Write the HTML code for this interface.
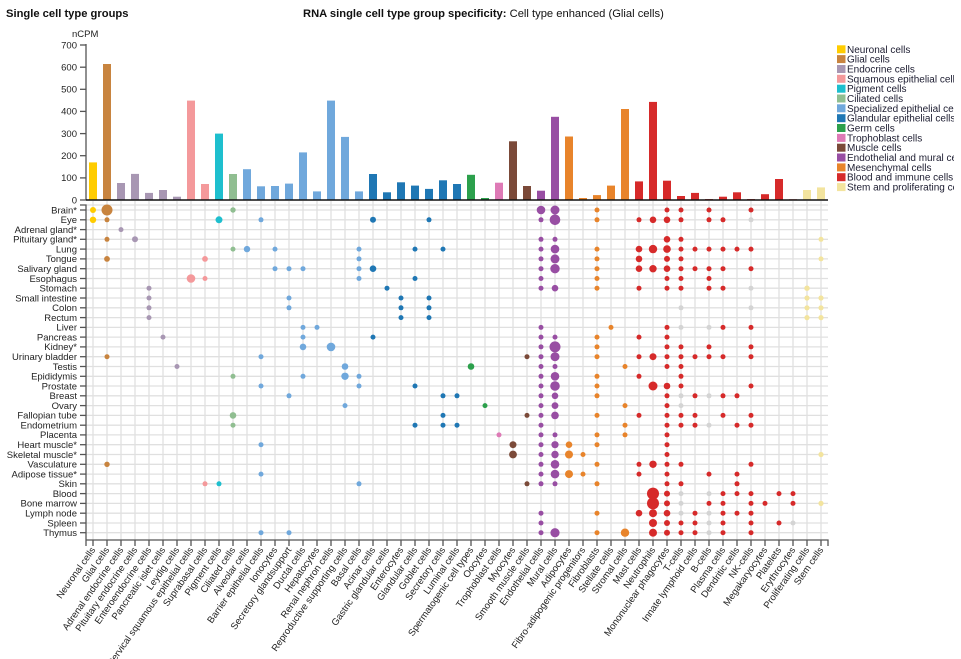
<!DOCTYPE html>
<html><head><meta charset="utf-8">
<style>
html,body{margin:0;padding:0;background:#fff;}
svg{display:block;font-family:"Liberation Sans",Arial,sans-serif;}
.t{font-size:11.2px;font-weight:bold;fill:#111;}
.tn{font-weight:normal;}
.yl{font-size:9.5px;fill:#222;text-anchor:end;}
.rl{font-size:9.5px;fill:#222;text-anchor:end;}
.xl{font-size:9.5px;fill:#222;text-anchor:end;}
.lg{font-size:10px;fill:#1c1c30;}
.grid line{stroke:#e0e0e0;stroke-width:1.3;}
.n{fill:#FFCC00}.g{fill:#C8843F}.e{fill:#A897B3}.s{fill:#F4999B}.p{fill:#1EBFCE}.ci{fill:#90BE91}
.sp{fill:#70A8DC}.gl{fill:#1F77B4}.ge{fill:#2CA04C}.tr{fill:#DE7AB6}.m{fill:#7B4A39}.en{fill:#984EA3}
.me{fill:#E8842B}.b{fill:#D62A2A}.st{fill:#F3E49E}.x{fill:#d4d4d4}
</style></head>
<body>
<svg width="961" height="659" viewBox="0 0 961 659" xmlns="http://www.w3.org/2000/svg">
<defs><clipPath id="lc"><rect x="830" y="30" width="124" height="170"/></clipPath></defs>

<!-- Titles -->
<text class="t" x="6" y="17">Single cell type groups</text>
<text class="t" x="303" y="17">RNA single cell type group specificity: <tspan class="tn">Cell type enhanced (Glial cells)</tspan></text>

<!-- Bar chart axis -->
<text class="yl" x="72" y="37" style="text-anchor:start">nCPM</text>
<g stroke="#555" stroke-width="1.3">
<line x1="86" y1="44" x2="86" y2="200"/>
<line x1="80" y1="45" x2="86" y2="45"/><line x1="80" y1="67.2" x2="86" y2="67.2"/><line x1="80" y1="89.3" x2="86" y2="89.3"/><line x1="80" y1="111.4" x2="86" y2="111.4"/><line x1="80" y1="133.6" x2="86" y2="133.6"/><line x1="80" y1="155.7" x2="86" y2="155.7"/><line x1="80" y1="177.9" x2="86" y2="177.9"/><line x1="80" y1="200" x2="86" y2="200"/>
</g>
<text class="yl" x="77" y="48.3">700</text>
<text class="yl" x="77" y="70.5">600</text>
<text class="yl" x="77" y="92.6">500</text>
<text class="yl" x="77" y="114.7">400</text>
<text class="yl" x="77" y="136.9">300</text>
<text class="yl" x="77" y="159">200</text>
<text class="yl" x="77" y="181.2">100</text>
<text class="yl" x="77" y="203.3">0</text>

<!-- Bars -->
<g>
<rect class="n" x="89" y="162.4" width="8" height="37.6"/>
<rect class="g" x="103" y="64" width="8" height="136"/>
<rect class="e" x="117" y="183" width="8" height="17"/>
<rect class="e" x="131" y="173.9" width="8" height="26.1"/>
<rect class="e" x="145" y="192.9" width="8" height="7.1"/>
<rect class="e" x="159" y="190" width="8" height="10"/>
<rect class="e" x="173" y="196.7" width="8" height="3.3"/>
<rect class="s" x="187" y="100.6" width="8" height="99.4"/>
<rect class="s" x="201" y="184" width="8" height="16"/>
<rect class="p" x="215" y="133.6" width="8" height="66.4"/>
<rect class="ci" x="229" y="174" width="8" height="26"/>
<rect class="sp" x="243" y="169.2" width="8" height="30.8"/>
<rect class="sp" x="257" y="186.3" width="8" height="13.7"/>
<rect class="sp" x="271" y="186" width="8" height="14"/>
<rect class="sp" x="285" y="183.6" width="8" height="16.4"/>
<rect class="sp" x="299" y="152.4" width="8" height="47.6"/>
<rect class="sp" x="313" y="191.4" width="8" height="8.6"/>
<rect class="sp" x="327" y="100.6" width="8" height="99.4"/>
<rect class="sp" x="341" y="136.9" width="8" height="63.1"/>
<rect class="sp" x="355" y="191.4" width="8" height="8.6"/>
<rect class="gl" x="369" y="174" width="8" height="26"/>
<rect class="gl" x="383" y="192.3" width="8" height="7.7"/>
<rect class="gl" x="397" y="182.3" width="8" height="17.7"/>
<rect class="gl" x="411" y="185.6" width="8" height="14.4"/>
<rect class="gl" x="425" y="188.9" width="8" height="11.1"/>
<rect class="gl" x="439" y="180.3" width="8" height="19.7"/>
<rect class="gl" x="453" y="184" width="8" height="16"/>
<rect class="ge" x="467" y="174.8" width="8" height="25.2"/>
<rect class="ge" x="481" y="198" width="8" height="2"/>
<rect class="tr" x="495" y="182.7" width="8" height="17.3"/>
<rect class="m" x="509" y="141.3" width="8" height="58.7"/>
<rect class="m" x="523" y="186" width="8" height="14"/>
<rect class="en" x="537" y="190.7" width="8" height="9.3"/>
<rect class="en" x="551" y="116.8" width="8" height="83.2"/>
<rect class="me" x="565" y="136.5" width="8" height="63.5"/>
<rect class="me" x="579" y="198" width="8" height="2"/>
<rect class="me" x="593" y="195.1" width="8" height="4.9"/>
<rect class="me" x="607" y="185.6" width="8" height="14.4"/>
<rect class="me" x="621" y="109" width="8" height="91"/>
<rect class="b" x="635" y="181.4" width="8" height="18.6"/>
<rect class="b" x="649" y="101.9" width="8" height="98.1"/>
<rect class="b" x="663" y="180.7" width="8" height="19.3"/>
<rect class="b" x="677" y="196" width="8" height="4"/>
<rect class="b" x="691" y="192.9" width="8" height="7.1"/>
<rect class="b" x="705" y="199.1" width="8" height="0.9"/>
<rect class="b" x="719" y="196.7" width="8" height="3.3"/>
<rect class="b" x="733" y="192.3" width="8" height="7.7"/>
<rect class="b" x="747" y="199.1" width="8" height="0.9"/>
<rect class="b" x="761" y="194.2" width="8" height="5.8"/>
<rect class="b" x="775" y="179" width="8" height="21"/>
<rect class="b" x="789" y="199.3" width="8" height="0.7"/>
<rect class="st" x="803" y="190" width="8" height="10"/>
<rect class="st" x="817" y="187.4" width="8" height="12.6"/>
</g>
<line x1="86" y1="200" x2="828" y2="200" stroke="#111" stroke-width="1.4"/>

<!-- Legend -->
<g clip-path="url(#lc)">
<rect class="n" x="837" y="45.3" width="8.5" height="8"/><text class="lg" x="847" y="52.8">Neuronal cells</text>
<rect class="g" x="837" y="55.1" width="8.5" height="8"/><text class="lg" x="847" y="62.6">Glial cells</text>
<rect class="e" x="837" y="65" width="8.5" height="8"/><text class="lg" x="847" y="72.5">Endocrine cells</text>
<rect class="s" x="837" y="74.8" width="8.5" height="8"/><text class="lg" x="847" y="82.3">Squamous epithelial cells</text>
<rect class="p" x="837" y="84.7" width="8.5" height="8"/><text class="lg" x="847" y="92.2">Pigment cells</text>
<rect class="ci" x="837" y="94.5" width="8.5" height="8"/><text class="lg" x="847" y="102">Ciliated cells</text>
<rect class="sp" x="837" y="104.3" width="8.5" height="8"/><text class="lg" x="847" y="111.8">Specialized epithelial cells</text>
<rect class="gl" x="837" y="114.2" width="8.5" height="8"/><text class="lg" x="847" y="121.7">Glandular epithelial cells</text>
<rect class="ge" x="837" y="124" width="8.5" height="8"/><text class="lg" x="847" y="131.5">Germ cells</text>
<rect class="tr" x="837" y="133.9" width="8.5" height="8"/><text class="lg" x="847" y="141.4">Trophoblast cells</text>
<rect class="m" x="837" y="143.7" width="8.5" height="8"/><text class="lg" x="847" y="151.2">Muscle cells</text>
<rect class="en" x="837" y="153.5" width="8.5" height="8"/><text class="lg" x="847" y="161">Endothelial and mural cells</text>
<rect class="me" x="837" y="163.4" width="8.5" height="8"/><text class="lg" x="847" y="170.9">Mesenchymal cells</text>
<rect class="b" x="837" y="173.2" width="8.5" height="8"/><text class="lg" x="847" y="180.7">Blood and immune cells</text>
<rect class="st" x="837" y="183.1" width="8.5" height="8"/><text class="lg" x="847" y="190.6">Stem and proliferating cells</text>
</g>

<!-- Grid -->
<g class="grid">
<line x1="86" y1="205" x2="828" y2="205"/>
<line x1="86" y1="210" x2="828" y2="210"/><line x1="86" y1="219.8" x2="828" y2="219.8"/><line x1="86" y1="229.6" x2="828" y2="229.6"/><line x1="86" y1="239.3" x2="828" y2="239.3"/><line x1="86" y1="249.1" x2="828" y2="249.1"/><line x1="86" y1="258.9" x2="828" y2="258.9"/><line x1="86" y1="268.7" x2="828" y2="268.7"/><line x1="86" y1="278.5" x2="828" y2="278.5"/><line x1="86" y1="288.2" x2="828" y2="288.2"/><line x1="86" y1="298" x2="828" y2="298"/><line x1="86" y1="307.8" x2="828" y2="307.8"/><line x1="86" y1="317.6" x2="828" y2="317.6"/><line x1="86" y1="327.4" x2="828" y2="327.4"/><line x1="86" y1="337.1" x2="828" y2="337.1"/><line x1="86" y1="346.9" x2="828" y2="346.9"/><line x1="86" y1="356.7" x2="828" y2="356.7"/><line x1="86" y1="366.5" x2="828" y2="366.5"/><line x1="86" y1="376.3" x2="828" y2="376.3"/><line x1="86" y1="386" x2="828" y2="386"/><line x1="86" y1="395.8" x2="828" y2="395.8"/><line x1="86" y1="405.6" x2="828" y2="405.6"/><line x1="86" y1="415.4" x2="828" y2="415.4"/><line x1="86" y1="425.2" x2="828" y2="425.2"/><line x1="86" y1="434.9" x2="828" y2="434.9"/><line x1="86" y1="444.7" x2="828" y2="444.7"/><line x1="86" y1="454.5" x2="828" y2="454.5"/><line x1="86" y1="464.3" x2="828" y2="464.3"/><line x1="86" y1="474.1" x2="828" y2="474.1"/><line x1="86" y1="483.8" x2="828" y2="483.8"/><line x1="86" y1="493.6" x2="828" y2="493.6"/><line x1="86" y1="503.4" x2="828" y2="503.4"/><line x1="86" y1="513.2" x2="828" y2="513.2"/><line x1="86" y1="523" x2="828" y2="523"/><line x1="86" y1="532.7" x2="828" y2="532.7"/>
<line x1="93" y1="201" x2="93" y2="540"/><line x1="107" y1="201" x2="107" y2="540"/><line x1="121" y1="201" x2="121" y2="540"/><line x1="135" y1="201" x2="135" y2="540"/><line x1="149" y1="201" x2="149" y2="540"/><line x1="163" y1="201" x2="163" y2="540"/><line x1="177" y1="201" x2="177" y2="540"/><line x1="191" y1="201" x2="191" y2="540"/><line x1="205" y1="201" x2="205" y2="540"/><line x1="219" y1="201" x2="219" y2="540"/><line x1="233" y1="201" x2="233" y2="540"/><line x1="247" y1="201" x2="247" y2="540"/><line x1="261" y1="201" x2="261" y2="540"/><line x1="275" y1="201" x2="275" y2="540"/><line x1="289" y1="201" x2="289" y2="540"/><line x1="303" y1="201" x2="303" y2="540"/><line x1="317" y1="201" x2="317" y2="540"/><line x1="331" y1="201" x2="331" y2="540"/><line x1="345" y1="201" x2="345" y2="540"/><line x1="359" y1="201" x2="359" y2="540"/><line x1="373" y1="201" x2="373" y2="540"/><line x1="387" y1="201" x2="387" y2="540"/><line x1="401" y1="201" x2="401" y2="540"/><line x1="415" y1="201" x2="415" y2="540"/><line x1="429" y1="201" x2="429" y2="540"/><line x1="443" y1="201" x2="443" y2="540"/><line x1="457" y1="201" x2="457" y2="540"/><line x1="471" y1="201" x2="471" y2="540"/><line x1="485" y1="201" x2="485" y2="540"/><line x1="499" y1="201" x2="499" y2="540"/><line x1="513" y1="201" x2="513" y2="540"/><line x1="527" y1="201" x2="527" y2="540"/><line x1="541" y1="201" x2="541" y2="540"/><line x1="555" y1="201" x2="555" y2="540"/><line x1="569" y1="201" x2="569" y2="540"/><line x1="583" y1="201" x2="583" y2="540"/><line x1="597" y1="201" x2="597" y2="540"/><line x1="611" y1="201" x2="611" y2="540"/><line x1="625" y1="201" x2="625" y2="540"/><line x1="639" y1="201" x2="639" y2="540"/><line x1="653" y1="201" x2="653" y2="540"/><line x1="667" y1="201" x2="667" y2="540"/><line x1="681" y1="201" x2="681" y2="540"/><line x1="695" y1="201" x2="695" y2="540"/><line x1="709" y1="201" x2="709" y2="540"/><line x1="723" y1="201" x2="723" y2="540"/><line x1="737" y1="201" x2="737" y2="540"/><line x1="751" y1="201" x2="751" y2="540"/><line x1="765" y1="201" x2="765" y2="540"/><line x1="779" y1="201" x2="779" y2="540"/><line x1="793" y1="201" x2="793" y2="540"/><line x1="807" y1="201" x2="807" y2="540"/><line x1="821" y1="201" x2="821" y2="540"/>
</g>

<!-- Dot matrix axes -->
<g stroke="#555" stroke-width="1.3" fill="none">
<path d="M80,205H86V540"/>
<path d="M86,540H828V546"/>
<path d="M86,540V546"/>
<line x1="80" y1="210" x2="86" y2="210"/><line x1="80" y1="219.8" x2="86" y2="219.8"/><line x1="80" y1="229.6" x2="86" y2="229.6"/><line x1="80" y1="239.3" x2="86" y2="239.3"/><line x1="80" y1="249.1" x2="86" y2="249.1"/><line x1="80" y1="258.9" x2="86" y2="258.9"/><line x1="80" y1="268.7" x2="86" y2="268.7"/><line x1="80" y1="278.5" x2="86" y2="278.5"/><line x1="80" y1="288.2" x2="86" y2="288.2"/><line x1="80" y1="298" x2="86" y2="298"/><line x1="80" y1="307.8" x2="86" y2="307.8"/><line x1="80" y1="317.6" x2="86" y2="317.6"/><line x1="80" y1="327.4" x2="86" y2="327.4"/><line x1="80" y1="337.1" x2="86" y2="337.1"/><line x1="80" y1="346.9" x2="86" y2="346.9"/><line x1="80" y1="356.7" x2="86" y2="356.7"/><line x1="80" y1="366.5" x2="86" y2="366.5"/><line x1="80" y1="376.3" x2="86" y2="376.3"/><line x1="80" y1="386" x2="86" y2="386"/><line x1="80" y1="395.8" x2="86" y2="395.8"/><line x1="80" y1="405.6" x2="86" y2="405.6"/><line x1="80" y1="415.4" x2="86" y2="415.4"/><line x1="80" y1="425.2" x2="86" y2="425.2"/><line x1="80" y1="434.9" x2="86" y2="434.9"/><line x1="80" y1="444.7" x2="86" y2="444.7"/><line x1="80" y1="454.5" x2="86" y2="454.5"/><line x1="80" y1="464.3" x2="86" y2="464.3"/><line x1="80" y1="474.1" x2="86" y2="474.1"/><line x1="80" y1="483.8" x2="86" y2="483.8"/><line x1="80" y1="493.6" x2="86" y2="493.6"/><line x1="80" y1="503.4" x2="86" y2="503.4"/><line x1="80" y1="513.2" x2="86" y2="513.2"/><line x1="80" y1="523" x2="86" y2="523"/><line x1="80" y1="532.7" x2="86" y2="532.7"/>
<path d="M93,540v6M107,540v6M121,540v6M135,540v6M149,540v6M163,540v6M177,540v6M191,540v6M205,540v6M219,540v6M233,540v6M247,540v6M261,540v6M275,540v6M289,540v6M303,540v6M317,540v6M331,540v6M345,540v6M359,540v6M373,540v6M387,540v6M401,540v6M415,540v6M429,540v6M443,540v6M457,540v6M471,540v6M485,540v6M499,540v6M513,540v6M527,540v6M541,540v6M555,540v6M569,540v6M583,540v6M597,540v6M611,540v6M625,540v6M639,540v6M653,540v6M667,540v6M681,540v6M695,540v6M709,540v6M723,540v6M737,540v6M751,540v6M765,540v6M779,540v6M793,540v6M807,540v6M821,540v6"/>
</g>

<!-- Row labels -->
<g>
<text class="rl" x="77" y="213.3">Brain*</text>
<text class="rl" x="77" y="223.1">Eye</text>
<text class="rl" x="77" y="232.9">Adrenal gland*</text>
<text class="rl" x="77" y="242.6">Pituitary gland*</text>
<text class="rl" x="77" y="252.4">Lung</text>
<text class="rl" x="77" y="262.2">Tongue</text>
<text class="rl" x="77" y="272">Salivary gland</text>
<text class="rl" x="77" y="281.8">Esophagus</text>
<text class="rl" x="77" y="291.5">Stomach</text>
<text class="rl" x="77" y="301.3">Small intestine</text>
<text class="rl" x="77" y="311.1">Colon</text>
<text class="rl" x="77" y="320.9">Rectum</text>
<text class="rl" x="77" y="330.7">Liver</text>
<text class="rl" x="77" y="340.4">Pancreas</text>
<text class="rl" x="77" y="350.2">Kidney*</text>
<text class="rl" x="77" y="360">Urinary bladder</text>
<text class="rl" x="77" y="369.8">Testis</text>
<text class="rl" x="77" y="379.6">Epididymis</text>
<text class="rl" x="77" y="389.3">Prostate</text>
<text class="rl" x="77" y="399.1">Breast</text>
<text class="rl" x="77" y="408.9">Ovary</text>
<text class="rl" x="77" y="418.7">Fallopian tube</text>
<text class="rl" x="77" y="428.5">Endometrium</text>
<text class="rl" x="77" y="438.2">Placenta</text>
<text class="rl" x="77" y="448">Heart muscle*</text>
<text class="rl" x="77" y="457.8">Skeletal muscle*</text>
<text class="rl" x="77" y="467.6">Vasculature</text>
<text class="rl" x="77" y="477.4">Adipose tissue*</text>
<text class="rl" x="77" y="487.1">Skin</text>
<text class="rl" x="77" y="496.9">Blood</text>
<text class="rl" x="77" y="506.7">Bone marrow</text>
<text class="rl" x="77" y="516.5">Lymph node</text>
<text class="rl" x="77" y="526.3">Spleen</text>
<text class="rl" x="77" y="536">Thymus</text>
</g>

<!-- Column labels -->
<g>
<text class="xl" transform="translate(93,548) rotate(-55)" dy="0.35em">Neuronal cells</text>
<text class="xl" transform="translate(107,548) rotate(-55)" dy="0.35em">Glial cells</text>
<text class="xl" transform="translate(121,548) rotate(-55)" dy="0.35em">Adrenal endocrine cells</text>
<text class="xl" transform="translate(135,548) rotate(-55)" dy="0.35em">Pituitary endocrine cells</text>
<text class="xl" transform="translate(149,548) rotate(-55)" dy="0.35em">Enteroendocrine cells</text>
<text class="xl" transform="translate(163,548) rotate(-55)" dy="0.35em">Pancreatic islet cells</text>
<text class="xl" transform="translate(177,548) rotate(-55)" dy="0.35em">Leydig cells</text>
<text class="xl" transform="translate(191,548) rotate(-55)" dy="0.35em">Cervical squamous epithelial cells</text>
<text class="xl" transform="translate(205,548) rotate(-55)" dy="0.35em">Suprabasal cells</text>
<text class="xl" transform="translate(219,548) rotate(-55)" dy="0.35em">Pigment cells</text>
<text class="xl" transform="translate(233,548) rotate(-55)" dy="0.35em">Ciliated cells</text>
<text class="xl" transform="translate(247,548) rotate(-55)" dy="0.35em">Alveolar cells</text>
<text class="xl" transform="translate(261,548) rotate(-55)" dy="0.35em">Barrier epithelial cells</text>
<text class="xl" transform="translate(275,548) rotate(-55)" dy="0.35em">Ionocytes</text>
<text class="xl" transform="translate(289,548) rotate(-55)" dy="0.35em">Secretory glandsupport</text>
<text class="xl" transform="translate(303,548) rotate(-55)" dy="0.35em">Ductal cells</text>
<text class="xl" transform="translate(317,548) rotate(-55)" dy="0.35em">Hepatocytes</text>
<text class="xl" transform="translate(331,548) rotate(-55)" dy="0.35em">Renal nephron cells</text>
<text class="xl" transform="translate(345,548) rotate(-55)" dy="0.35em">Reproductive supporting cells</text>
<text class="xl" transform="translate(359,548) rotate(-55)" dy="0.35em">Basal cells</text>
<text class="xl" transform="translate(373,548) rotate(-55)" dy="0.35em">Acinar cells</text>
<text class="xl" transform="translate(387,548) rotate(-55)" dy="0.35em">Gastric glandular cells</text>
<text class="xl" transform="translate(401,548) rotate(-55)" dy="0.35em">Enterocytes</text>
<text class="xl" transform="translate(415,548) rotate(-55)" dy="0.35em">Glandular cells</text>
<text class="xl" transform="translate(429,548) rotate(-55)" dy="0.35em">Goblet cells</text>
<text class="xl" transform="translate(443,548) rotate(-55)" dy="0.35em">Secretory cells</text>
<text class="xl" transform="translate(457,548) rotate(-55)" dy="0.35em">Luminal cells</text>
<text class="xl" transform="translate(471,548) rotate(-55)" dy="0.35em">Spermatogenic cell types</text>
<text class="xl" transform="translate(485,548) rotate(-55)" dy="0.35em">Oocytes</text>
<text class="xl" transform="translate(499,548) rotate(-55)" dy="0.35em">Trophoblast cells</text>
<text class="xl" transform="translate(513,548) rotate(-55)" dy="0.35em">Myocytes</text>
<text class="xl" transform="translate(527,548) rotate(-55)" dy="0.35em">Smooth muscle cells</text>
<text class="xl" transform="translate(541,548) rotate(-55)" dy="0.35em">Endothelial cells</text>
<text class="xl" transform="translate(555,548) rotate(-55)" dy="0.35em">Mural cells</text>
<text class="xl" transform="translate(569,548) rotate(-55)" dy="0.35em">Adipocytes</text>
<text class="xl" transform="translate(583,548) rotate(-55)" dy="0.35em">Fibro-adipogenic progenitors</text>
<text class="xl" transform="translate(597,548) rotate(-55)" dy="0.35em">Fibroblasts</text>
<text class="xl" transform="translate(611,548) rotate(-55)" dy="0.35em">Stellate cells</text>
<text class="xl" transform="translate(625,548) rotate(-55)" dy="0.35em">Stromal cells</text>
<text class="xl" transform="translate(639,548) rotate(-55)" dy="0.35em">Mast cells</text>
<text class="xl" transform="translate(653,548) rotate(-55)" dy="0.35em">Neutrophils</text>
<text class="xl" transform="translate(667,548) rotate(-55)" dy="0.35em">Mononuclear phagocytes</text>
<text class="xl" transform="translate(681,548) rotate(-55)" dy="0.35em">T-cells</text>
<text class="xl" transform="translate(695,548) rotate(-55)" dy="0.35em">Innate lymphoid cells</text>
<text class="xl" transform="translate(709,548) rotate(-55)" dy="0.35em">B-cells</text>
<text class="xl" transform="translate(723,548) rotate(-55)" dy="0.35em">Plasma cells</text>
<text class="xl" transform="translate(737,548) rotate(-55)" dy="0.35em">Dendritic cells</text>
<text class="xl" transform="translate(751,548) rotate(-55)" dy="0.35em">NK-cells</text>
<text class="xl" transform="translate(765,548) rotate(-55)" dy="0.35em">Megakaryocytes</text>
<text class="xl" transform="translate(779,548) rotate(-55)" dy="0.35em">Platelets</text>
<text class="xl" transform="translate(793,548) rotate(-55)" dy="0.35em">Erythrocytes</text>
<text class="xl" transform="translate(807,548) rotate(-55)" dy="0.35em">Proliferating cells</text>
<text class="xl" transform="translate(821,548) rotate(-55)" dy="0.35em">Stem cells</text>
</g>

<!-- Dots -->
<g>
<!-- Brain -->
<circle class="n" cx="93" cy="210" r="3"/><circle class="g" cx="107" cy="210" r="5.5"/><circle class="ci" cx="233" cy="210" r="2.7"/><circle class="en" cx="541" cy="210" r="4.3"/><circle class="en" cx="555" cy="210" r="4.5"/><circle class="me" cx="597" cy="210" r="2.5"/><circle class="b" cx="667" cy="210" r="2.5"/><circle class="b" cx="681" cy="210" r="2.5"/><circle class="b" cx="709" cy="210" r="2.5"/><circle class="b" cx="751" cy="210" r="2.5"/>
<!-- Eye -->
<circle class="n" cx="93" cy="219.8" r="3.2"/><circle class="g" cx="107" cy="219.8" r="2.5"/><circle class="p" cx="219" cy="219.8" r="3.5"/><circle class="sp" cx="261" cy="219.8" r="2.5"/><circle class="gl" cx="373" cy="219.8" r="3"/><circle class="gl" cx="429" cy="219.8" r="2.5"/><circle class="en" cx="541" cy="219.8" r="2.5"/><circle class="en" cx="555" cy="219.8" r="5.3"/><circle class="me" cx="597" cy="219.8" r="2.5"/><circle class="b" cx="639" cy="219.8" r="2.5"/><circle class="b" cx="653" cy="219.8" r="3.3"/><circle class="b" cx="667" cy="219.8" r="3.3"/><circle class="b" cx="681" cy="219.8" r="2.5"/><circle class="b" cx="709" cy="219.8" r="2.5"/><circle class="b" cx="723" cy="219.8" r="2.5"/><circle class="x" cx="751" cy="219.8" r="2.5"/>
<!-- Adrenal -->
<circle class="e" cx="121" cy="229.6" r="2.5"/>
<!-- Pituitary -->
<circle class="g" cx="107" cy="239.3" r="2.5"/><circle class="e" cx="135" cy="239.3" r="3"/><circle class="en" cx="541" cy="239.3" r="2.5"/><circle class="en" cx="555" cy="239.3" r="2.5"/><circle class="b" cx="667" cy="239.3" r="3.3"/><circle class="b" cx="681" cy="239.3" r="2.5"/><circle class="st" cx="821" cy="239.3" r="2.5"/>
<!-- Lung -->
<circle class="ci" cx="233" cy="249.1" r="2.5"/><circle class="sp" cx="247" cy="249.1" r="3.2"/><circle class="sp" cx="275" cy="249.1" r="2.5"/><circle class="sp" cx="359" cy="249.1" r="2.5"/><circle class="gl" cx="415" cy="249.1" r="2.5"/><circle class="gl" cx="443" cy="249.1" r="2.5"/><circle class="en" cx="541" cy="249.1" r="2.5"/><circle class="en" cx="555" cy="249.1" r="4.3"/><circle class="me" cx="597" cy="249.1" r="2.5"/><circle class="b" cx="639" cy="249.1" r="3.3"/><circle class="b" cx="653" cy="249.1" r="4.2"/><circle class="b" cx="667" cy="249.1" r="3.8"/><circle class="b" cx="681" cy="249.1" r="2.5"/><circle class="b" cx="695" cy="249.1" r="2.5"/><circle class="b" cx="709" cy="249.1" r="2.5"/><circle class="b" cx="723" cy="249.1" r="2.5"/><circle class="b" cx="737" cy="249.1" r="2.5"/><circle class="b" cx="751" cy="249.1" r="2.5"/>
<!-- Tongue -->
<circle class="g" cx="107" cy="258.9" r="2.9"/><circle class="s" cx="205" cy="258.9" r="2.9"/><circle class="sp" cx="359" cy="258.9" r="2.5"/><circle class="en" cx="541" cy="258.9" r="2.5"/><circle class="en" cx="555" cy="258.9" r="4.5"/><circle class="me" cx="597" cy="258.9" r="2.5"/><circle class="b" cx="639" cy="258.9" r="3.3"/><circle class="b" cx="667" cy="258.9" r="3"/><circle class="b" cx="681" cy="258.9" r="2.5"/><circle class="st" cx="821" cy="258.9" r="2.5"/>
<!-- Salivary -->
<circle class="sp" cx="275" cy="268.7" r="2.5"/><circle class="sp" cx="289" cy="268.7" r="2.5"/><circle class="sp" cx="303" cy="268.7" r="2.5"/><circle class="sp" cx="359" cy="268.7" r="2.5"/><circle class="gl" cx="373" cy="268.7" r="3.3"/><circle class="en" cx="541" cy="268.7" r="2.5"/><circle class="en" cx="555" cy="268.7" r="4.7"/><circle class="me" cx="597" cy="268.7" r="2.5"/><circle class="b" cx="639" cy="268.7" r="3.3"/><circle class="b" cx="653" cy="268.7" r="3.7"/><circle class="b" cx="667" cy="268.7" r="3.3"/><circle class="b" cx="681" cy="268.7" r="2.5"/><circle class="b" cx="695" cy="268.7" r="2.5"/><circle class="b" cx="709" cy="268.7" r="2.5"/><circle class="b" cx="723" cy="268.7" r="2.5"/><circle class="b" cx="751" cy="268.7" r="2.5"/>
<!-- Esophagus -->
<circle class="s" cx="191" cy="278.5" r="4.3"/><circle class="s" cx="205" cy="278.5" r="2.5"/><circle class="sp" cx="359" cy="278.5" r="2.5"/><circle class="gl" cx="415" cy="278.5" r="2.5"/><circle class="en" cx="541" cy="278.5" r="2.5"/><circle class="me" cx="597" cy="278.5" r="2.5"/><circle class="b" cx="667" cy="278.5" r="2.5"/><circle class="b" cx="681" cy="278.5" r="2.5"/><circle class="b" cx="709" cy="278.5" r="2.5"/>
<!-- Stomach -->
<circle class="e" cx="149" cy="288.2" r="2.5"/><circle class="gl" cx="387" cy="288.2" r="2.5"/><circle class="en" cx="541" cy="288.2" r="2.5"/><circle class="en" cx="555" cy="288.2" r="3.3"/><circle class="me" cx="597" cy="288.2" r="2.5"/><circle class="b" cx="639" cy="288.2" r="2.5"/><circle class="b" cx="667" cy="288.2" r="2.5"/><circle class="b" cx="681" cy="288.2" r="2.5"/><circle class="b" cx="709" cy="288.2" r="2.5"/><circle class="b" cx="723" cy="288.2" r="2.5"/><circle class="x" cx="751" cy="288.2" r="2.5"/><circle class="st" cx="807" cy="288.2" r="2.7"/>
<!-- Small intestine -->
<circle class="e" cx="149" cy="298" r="2.5"/><circle class="sp" cx="289" cy="298" r="2.5"/><circle class="gl" cx="401" cy="298" r="2.5"/><circle class="gl" cx="429" cy="298" r="2.5"/><circle class="st" cx="807" cy="298" r="2.6"/><circle class="st" cx="821" cy="298" r="2.6"/>
<!-- Colon -->
<circle class="e" cx="149" cy="307.8" r="2.5"/><circle class="sp" cx="289" cy="307.8" r="2.5"/><circle class="gl" cx="401" cy="307.8" r="2.5"/><circle class="gl" cx="429" cy="307.8" r="2.5"/><circle class="x" cx="681" cy="307.8" r="2.5"/><circle class="x" cx="751" cy="307.8" r="2.5"/><circle class="st" cx="807" cy="307.8" r="2.6"/><circle class="st" cx="821" cy="307.8" r="2.6"/>
<!-- Rectum -->
<circle class="e" cx="149" cy="317.6" r="2.5"/><circle class="gl" cx="401" cy="317.6" r="2.5"/><circle class="gl" cx="429" cy="317.6" r="2.5"/><circle class="st" cx="807" cy="317.6" r="2.6"/><circle class="st" cx="821" cy="317.6" r="2.6"/>
<!-- Liver -->
<circle class="sp" cx="303" cy="327.4" r="2.5"/><circle class="sp" cx="317" cy="327.4" r="2.5"/><circle class="en" cx="541" cy="327.4" r="2.5"/><circle class="me" cx="611" cy="327.4" r="2.5"/><circle class="b" cx="667" cy="327.4" r="2.5"/><circle class="x" cx="681" cy="327.4" r="2.5"/><circle class="x" cx="709" cy="327.4" r="2.5"/><circle class="b" cx="723" cy="327.4" r="2.5"/><circle class="b" cx="751" cy="327.4" r="2.5"/>
<!-- Pancreas -->
<circle class="e" cx="163" cy="337.1" r="2.5"/><circle class="sp" cx="303" cy="337.1" r="2.5"/><circle class="gl" cx="373" cy="337.1" r="2.5"/><circle class="en" cx="541" cy="337.1" r="2.5"/><circle class="en" cx="555" cy="337.1" r="2.5"/><circle class="me" cx="597" cy="337.1" r="2.5"/><circle class="b" cx="639" cy="337.1" r="2.5"/><circle class="b" cx="667" cy="337.1" r="2.5"/>
<!-- Kidney -->
<circle class="sp" cx="303" cy="346.9" r="3.3"/><circle class="sp" cx="331" cy="346.9" r="4.3"/><circle class="en" cx="541" cy="346.9" r="2.5"/><circle class="en" cx="555" cy="346.9" r="5.5"/><circle class="me" cx="597" cy="346.9" r="2.5"/><circle class="b" cx="667" cy="346.9" r="2.5"/><circle class="b" cx="681" cy="346.9" r="2.5"/><circle class="b" cx="709" cy="346.9" r="2.5"/><circle class="b" cx="751" cy="346.9" r="2.5"/>
<!-- Urinary bladder -->
<circle class="g" cx="107" cy="356.7" r="2.5"/><circle class="sp" cx="261" cy="356.7" r="2.5"/><circle class="m" cx="527" cy="356.7" r="2.5"/><circle class="en" cx="541" cy="356.7" r="2.5"/><circle class="en" cx="555" cy="356.7" r="4.5"/><circle class="me" cx="597" cy="356.7" r="2.5"/><circle class="b" cx="639" cy="356.7" r="2.5"/><circle class="b" cx="653" cy="356.7" r="3.5"/><circle class="b" cx="667" cy="356.7" r="2.5"/><circle class="b" cx="681" cy="356.7" r="2.5"/><circle class="b" cx="695" cy="356.7" r="2.5"/><circle class="b" cx="709" cy="356.7" r="2.5"/><circle class="b" cx="723" cy="356.7" r="2.5"/><circle class="b" cx="751" cy="356.7" r="2.5"/>
<!-- Testis -->
<circle class="e" cx="177" cy="366.5" r="2.5"/><circle class="sp" cx="345" cy="366.5" r="3.3"/><circle class="ge" cx="471" cy="366.5" r="3.3"/><circle class="en" cx="541" cy="366.5" r="2.5"/><circle class="en" cx="555" cy="366.5" r="2.5"/><circle class="me" cx="625" cy="366.5" r="2.5"/><circle class="b" cx="667" cy="366.5" r="2.5"/><circle class="b" cx="681" cy="366.5" r="2.5"/>
<!-- Epididymis -->
<circle class="ci" cx="233" cy="376.3" r="2.5"/><circle class="sp" cx="303" cy="376.3" r="2.5"/><circle class="sp" cx="345" cy="376.3" r="3.7"/><circle class="sp" cx="359" cy="376.3" r="2.5"/><circle class="en" cx="541" cy="376.3" r="2.5"/><circle class="en" cx="555" cy="376.3" r="4.3"/><circle class="me" cx="597" cy="376.3" r="2.5"/><circle class="b" cx="639" cy="376.3" r="2.5"/><circle class="b" cx="681" cy="376.3" r="2.5"/>
<!-- Prostate -->
<circle class="sp" cx="261" cy="386" r="2.5"/><circle class="sp" cx="359" cy="386" r="2.5"/><circle class="gl" cx="415" cy="386" r="2.5"/><circle class="en" cx="541" cy="386" r="2.5"/><circle class="en" cx="555" cy="386" r="4.8"/><circle class="me" cx="597" cy="386" r="2.5"/><circle class="b" cx="653" cy="386" r="4.5"/><circle class="b" cx="667" cy="386" r="3.3"/><circle class="b" cx="681" cy="386" r="2.5"/><circle class="b" cx="751" cy="386" r="2.5"/>
<!-- Breast -->
<circle class="sp" cx="289" cy="395.8" r="2.5"/><circle class="gl" cx="443" cy="395.8" r="2.5"/><circle class="gl" cx="457" cy="395.8" r="2.5"/><circle class="en" cx="541" cy="395.8" r="2.5"/><circle class="en" cx="555" cy="395.8" r="3.3"/><circle class="me" cx="597" cy="395.8" r="2.5"/><circle class="b" cx="667" cy="395.8" r="2.5"/><circle class="x" cx="681" cy="395.8" r="2.5"/><circle class="b" cx="695" cy="395.8" r="2.5"/><circle class="x" cx="709" cy="395.8" r="2.5"/><circle class="b" cx="723" cy="395.8" r="2.5"/><circle class="b" cx="737" cy="395.8" r="2.5"/>
<!-- Ovary -->
<circle class="sp" cx="345" cy="405.6" r="2.5"/><circle class="ge" cx="485" cy="405.6" r="2.5"/><circle class="en" cx="541" cy="405.6" r="2.5"/><circle class="en" cx="555" cy="405.6" r="3.4"/><circle class="me" cx="625" cy="405.6" r="2.5"/><circle class="b" cx="667" cy="405.6" r="2.5"/><circle class="x" cx="681" cy="405.6" r="2.5"/>
<!-- Fallopian tube -->
<circle class="ci" cx="233" cy="415.4" r="3.3"/><circle class="gl" cx="443" cy="415.4" r="2.5"/><circle class="m" cx="527" cy="415.4" r="2.5"/><circle class="en" cx="541" cy="415.4" r="2.5"/><circle class="en" cx="555" cy="415.4" r="3.8"/><circle class="me" cx="597" cy="415.4" r="2.5"/><circle class="b" cx="639" cy="415.4" r="2.5"/><circle class="b" cx="667" cy="415.4" r="2.5"/><circle class="b" cx="681" cy="415.4" r="2.5"/><circle class="b" cx="695" cy="415.4" r="2.5"/><circle class="b" cx="723" cy="415.4" r="2.5"/><circle class="b" cx="751" cy="415.4" r="2.5"/>
<!-- Endometrium -->
<circle class="ci" cx="233" cy="425.2" r="2.5"/><circle class="gl" cx="415" cy="425.2" r="2.5"/><circle class="gl" cx="443" cy="425.2" r="2.5"/><circle class="gl" cx="457" cy="425.2" r="2.5"/><circle class="en" cx="541" cy="425.2" r="2.5"/><circle class="me" cx="625" cy="425.2" r="2.5"/><circle class="b" cx="667" cy="425.2" r="2.5"/><circle class="b" cx="681" cy="425.2" r="2.5"/><circle class="b" cx="695" cy="425.2" r="2.5"/><circle class="x" cx="709" cy="425.2" r="2.5"/><circle class="b" cx="737" cy="425.2" r="2.5"/><circle class="b" cx="751" cy="425.2" r="2.5"/>
<!-- Placenta -->
<circle class="tr" cx="499" cy="434.9" r="2.5"/><circle class="en" cx="541" cy="434.9" r="2.5"/><circle class="en" cx="555" cy="434.9" r="2.5"/><circle class="me" cx="597" cy="434.9" r="2.5"/><circle class="me" cx="625" cy="434.9" r="2.5"/><circle class="b" cx="667" cy="434.9" r="2.5"/>
<!-- Heart muscle -->
<circle class="sp" cx="261" cy="444.7" r="2.5"/><circle class="m" cx="513" cy="444.7" r="3.5"/><circle class="en" cx="541" cy="444.7" r="2.5"/><circle class="en" cx="555" cy="444.7" r="3.6"/><circle class="me" cx="569" cy="444.7" r="3.3"/><circle class="me" cx="597" cy="444.7" r="2.5"/><circle class="b" cx="667" cy="444.7" r="2.5"/>
<!-- Skeletal muscle -->
<circle class="m" cx="513" cy="454.5" r="3.9"/><circle class="en" cx="541" cy="454.5" r="2.5"/><circle class="en" cx="555" cy="454.5" r="3.7"/><circle class="me" cx="569" cy="454.5" r="4"/><circle class="me" cx="583" cy="454.5" r="2.5"/><circle class="b" cx="667" cy="454.5" r="2.5"/><circle class="st" cx="821" cy="454.5" r="2.6"/>
<!-- Vasculature -->
<circle class="g" cx="107" cy="464.3" r="2.7"/><circle class="en" cx="541" cy="464.3" r="2.5"/><circle class="en" cx="555" cy="464.3" r="4.3"/><circle class="me" cx="597" cy="464.3" r="2.5"/><circle class="b" cx="639" cy="464.3" r="2.5"/><circle class="b" cx="653" cy="464.3" r="3.7"/><circle class="b" cx="667" cy="464.3" r="2.5"/><circle class="b" cx="681" cy="464.3" r="2.5"/><circle class="b" cx="751" cy="464.3" r="2.5"/>
<!-- Adipose -->
<circle class="sp" cx="261" cy="474.1" r="2.5"/><circle class="en" cx="541" cy="474.1" r="2.5"/><circle class="en" cx="555" cy="474.1" r="4.3"/><circle class="me" cx="569" cy="474.1" r="4"/><circle class="me" cx="583" cy="474.1" r="2.5"/><circle class="b" cx="639" cy="474.1" r="2.5"/><circle class="b" cx="667" cy="474.1" r="2.5"/><circle class="b" cx="709" cy="474.1" r="2.5"/><circle class="b" cx="737" cy="474.1" r="2.5"/>
<!-- Skin -->
<circle class="s" cx="205" cy="483.8" r="2.5"/><circle class="p" cx="219" cy="483.8" r="2.5"/><circle class="sp" cx="359" cy="483.8" r="2.5"/><circle class="m" cx="527" cy="483.8" r="2.5"/><circle class="en" cx="541" cy="483.8" r="2.5"/><circle class="en" cx="555" cy="483.8" r="2.5"/><circle class="me" cx="597" cy="483.8" r="2.5"/><circle class="b" cx="667" cy="483.8" r="2.5"/><circle class="b" cx="681" cy="483.8" r="2.5"/><circle class="b" cx="737" cy="483.8" r="2.5"/>
<!-- Blood -->
<circle class="b" cx="653" cy="493.6" r="6"/><circle class="b" cx="667" cy="493.6" r="3"/><circle class="x" cx="681" cy="493.6" r="2.5"/><circle class="x" cx="709" cy="493.6" r="2.5"/><circle class="b" cx="723" cy="493.6" r="2.5"/><circle class="b" cx="737" cy="493.6" r="2.5"/><circle class="b" cx="751" cy="493.6" r="2.5"/><circle class="b" cx="779" cy="493.6" r="2.5"/><circle class="b" cx="793" cy="493.6" r="2.5"/>
<!-- Bone marrow -->
<circle class="b" cx="653" cy="503.4" r="6"/><circle class="b" cx="667" cy="503.4" r="3"/><circle class="x" cx="681" cy="503.4" r="2.5"/><circle class="b" cx="709" cy="503.4" r="2.5"/><circle class="b" cx="723" cy="503.4" r="2.5"/><circle class="b" cx="751" cy="503.4" r="2.5"/><circle class="b" cx="765" cy="503.4" r="2.5"/><circle class="b" cx="793" cy="503.4" r="2.5"/><circle class="st" cx="821" cy="503.4" r="2.6"/>
<!-- Lymph node -->
<circle class="en" cx="541" cy="513.2" r="2.5"/><circle class="me" cx="597" cy="513.2" r="2.5"/><circle class="b" cx="639" cy="513.2" r="3.3"/><circle class="b" cx="653" cy="513.2" r="4"/><circle class="b" cx="667" cy="513.2" r="3.3"/><circle class="x" cx="681" cy="513.2" r="2.5"/><circle class="b" cx="695" cy="513.2" r="2.5"/><circle class="x" cx="709" cy="513.2" r="2.5"/><circle class="b" cx="723" cy="513.2" r="2.5"/><circle class="b" cx="737" cy="513.2" r="2.5"/><circle class="b" cx="751" cy="513.2" r="2.5"/>
<!-- Spleen -->
<circle class="en" cx="541" cy="523" r="2.5"/><circle class="b" cx="653" cy="523" r="4"/><circle class="b" cx="667" cy="523" r="3"/><circle class="b" cx="681" cy="523" r="2.5"/><circle class="b" cx="695" cy="523" r="2.5"/><circle class="x" cx="709" cy="523" r="2.5"/><circle class="b" cx="723" cy="523" r="2.5"/><circle class="b" cx="751" cy="523" r="2.5"/><circle class="b" cx="779" cy="523" r="2.5"/><circle class="x" cx="793" cy="523" r="2.5"/>
<!-- Thymus -->
<circle class="sp" cx="261" cy="532.7" r="2.5"/><circle class="sp" cx="289" cy="532.7" r="2.5"/><circle class="en" cx="541" cy="532.7" r="2.5"/><circle class="en" cx="555" cy="532.7" r="4.6"/><circle class="me" cx="597" cy="532.7" r="2.5"/><circle class="me" cx="625" cy="532.7" r="4.2"/><circle class="b" cx="653" cy="532.7" r="4"/><circle class="b" cx="667" cy="532.7" r="3"/><circle class="b" cx="681" cy="532.7" r="2.5"/><circle class="b" cx="695" cy="532.7" r="2.5"/><circle class="x" cx="709" cy="532.7" r="2.5"/><circle class="b" cx="723" cy="532.7" r="2.5"/><circle class="b" cx="751" cy="532.7" r="2.5"/>
</g>
</svg>
</body></html>
